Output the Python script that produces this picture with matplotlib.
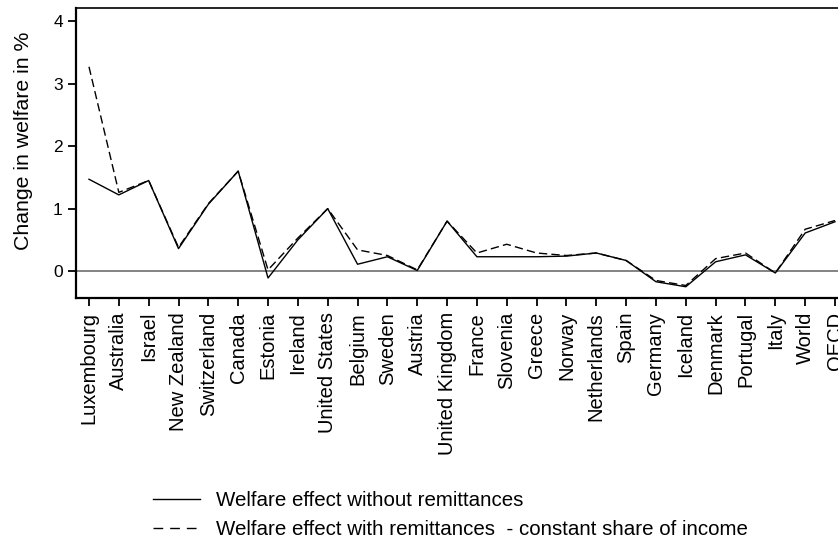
import matplotlib
matplotlib.use("Agg")
import matplotlib.pyplot as plt
from matplotlib.lines import Line2D

countries = ["Luxembourg", "Australia", "Israel", "New Zealand", "Switzerland", "Canada",
             "Estonia", "Ireland", "United States", "Belgium", "Sweden", "Austria",
             "United Kingdom", "France", "Slovenia", "Greece", "Norway", "Netherlands",
             "Spain", "Germany", "Iceland", "Denmark", "Portugal", "Italy", "World", "OECD"]
without_remit = [1.47, 1.22, 1.45, 0.36, 1.07, 1.60, -0.11, 0.50, 1.00, 0.11, 0.23, 0.01,
                 0.80, 0.23, 0.23, 0.23, 0.24, 0.29, 0.17, -0.17, -0.25, 0.15, 0.26, -0.03,
                 0.61, 0.79]
with_remit = [3.27, 1.26, 1.45, 0.38, 1.08, 1.60, 0.02, 0.53, 1.00, 0.34, 0.25, 0.02,
              0.80, 0.29, 0.43, 0.29, 0.25, 0.29, 0.17, -0.15, -0.23, 0.20, 0.29, -0.03,
              0.67, 0.81]
yticks = [0, 1, 2, 3, 4]
label_without = "Welfare effect without remittances"
label_with = "Welfare effect with remittances  - constant share of income"
ylabel = "Change in welfare in %"

plt.rcParams['font.family'] = ['Liberation Sans', 'DejaVu Sans']

W, H = 838, 543
fig = plt.figure(figsize=(W / 100, H / 100), dpi=100)
ax_l, ax_r, ax_t, ax_b = 76, 848, 8, 298
ax = fig.add_axes([ax_l / W, 1 - ax_b / H, (ax_r - ax_l) / W, (ax_b - ax_t) / H])

x = list(range(len(countries)))
ax.axhline(0, color="#7a7a7a", lw=1.3, zorder=1)
ax.plot(x, without_remit, color="black", lw=1.0, zorder=3)
ax.plot(x, with_remit, color="black", lw=1.0, dashes=(6, 3), zorder=2)

ax.set_xlim(-0.435, 25.435)
ax.set_ylim(-0.43, 4.21)
ax.set_xticks(x)
ax.set_xticklabels(countries, rotation=90, fontsize=14.5, va="top", ha="center")
ax.set_yticks(yticks)
ax.set_yticklabels([str(v) for v in yticks], fontsize=12.5)
ax.tick_params(axis="x", direction="out", length=6, width=1.3, pad=4)
ax.tick_params(axis="y", direction="out", length=6, width=1.3, pad=3.5)

for s in ["left", "bottom"]:
    ax.spines[s].set_linewidth(1.6)
ax.spines["top"].set_linewidth(1.2)
ax.spines["right"].set_linewidth(1.2)

ax.set_ylabel(ylabel, fontsize=15.3)
ax.yaxis.set_label_coords((33 - ax_l) / (ax_r - ax_l), (ax_b - 141) / (ax_b - ax_t))

handles = [Line2D([], [], color="black", lw=1.0),
           Line2D([], [], color="black", lw=1.0, dashes=(7, 5))]
fig.legend(handles, [label_without, label_with], loc="upper left",
           bbox_to_anchor=(153 / W, 1 - 491 / H), frameon=False, fontsize=14.8,
           handlelength=2.3, handletextpad=0.75, borderpad=0, borderaxespad=0,
           labelspacing=0.5)

fig.savefig("out.png", dpi=100)
